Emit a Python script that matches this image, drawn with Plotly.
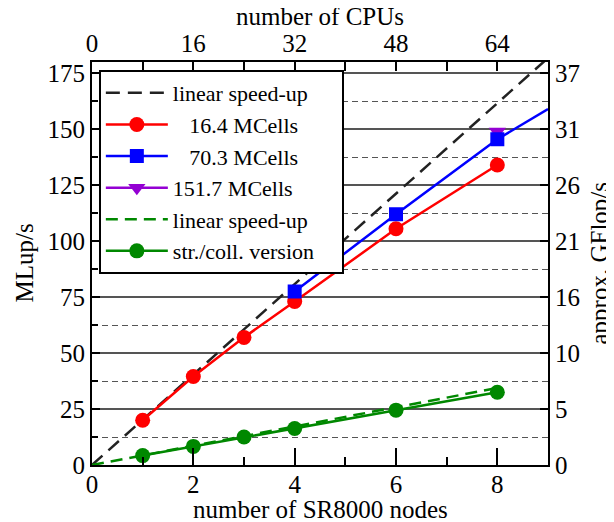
import plotly.graph_objects as go

# ---- data ----
nodes_red = [1, 2, 3, 4, 6, 8]
mlups_red = [20, 39.5, 57, 73, 105.5, 134]

nodes_blue = [4, 6, 8]
mlups_blue = [77.5, 112, 145.5]
nodes_blue_ext = [8, 9]
mlups_blue_ext = [145.5, 159]

nodes_purple = [8]
mlups_purple = [149]

nodes_green = [1, 2, 3, 4, 6, 8]
mlups_green = [4.2, 8.3, 12.5, 16.3, 24.5, 32.5]

lin_x = [0, 9]
lin_black = [0, 181.8]
lin_green_x = [0, 8]
lin_green = [0, 34.4]

bottom_ticks = [0, 2, 4, 6, 8]
top_ticks = [0, 16, 32, 48, 64]
left_ticks = [0, 25, 50, 75, 100, 125, 150, 175]
right_text = ["0", "5", "10", "16", "21", "26", "31", "37"]

FONT = "Liberation Serif"
NB = "\u00a0"
TICK = 25
TITLE = 25

fig = go.Figure()
fig.add_trace(go.Scatter(x=lin_x, y=lin_black, mode="lines", name="linear speed-up",
                         line=dict(color="#222222", width=2.5, dash="14px,8px"), legendrank=1))
fig.add_trace(go.Scatter(x=lin_green_x, y=lin_green, mode="lines", name="linear speed-up",
                         line=dict(color="#008800", width=2.5, dash="12px,7px"), legendrank=5))
fig.add_trace(go.Scatter(x=nodes_green, y=mlups_green, mode="lines+markers",
                         name="str./coll. version" + NB * 4,
                         line=dict(color="#008800", width=2.5),
                         marker=dict(symbol="circle", size=15, color="#008800"), legendrank=6))
fig.add_trace(go.Scatter(x=nodes_red, y=mlups_red, mode="lines+markers", name=NB * 3 + "16.4 MCells",
                         line=dict(color="#ff0000", width=2.5),
                         marker=dict(symbol="circle", size=15, color="#ff0000"), legendrank=2))
fig.add_trace(go.Scatter(x=nodes_purple, y=mlups_purple, mode="lines+markers", name="151.7 MCells",
                         line=dict(color="#9400d3", width=2.5),
                         marker=dict(symbol="triangle-down", size=15, color="#9400d3"), legendrank=4))
fig.add_trace(go.Scatter(x=nodes_blue_ext, y=mlups_blue_ext, mode="lines", showlegend=False,
                         line=dict(color="#0000ff", width=2.5)))
fig.add_trace(go.Scatter(x=nodes_blue, y=mlups_blue, mode="lines+markers", name=NB * 3 + "70.3 MCells",
                         line=dict(color="#0000ff", width=2.5),
                         marker=dict(symbol="square", size=14, color="#0000ff"), legendrank=3))
fig.add_trace(go.Scatter(x=[None], y=[None], xaxis="x2", yaxis="y2", showlegend=False, hoverinfo="skip"))

axis_common = dict(automargin=False, showline=True, linecolor="black", linewidth=2,
                   zeroline=False, tickcolor="black", tickwidth=1.5, ticks="inside",
                   tickfont=dict(family=FONT, size=TICK))

fig.update_layout(
    width=606, height=514,
    margin=dict(l=84, r=66, t=54, b=57),
    paper_bgcolor="white", plot_bgcolor="white",
    font=dict(family=FONT, size=TICK, color="black"),
    showlegend=True,
    legend=dict(x=0.015, y=0.98, xanchor="left", yanchor="top",
                bgcolor="white", bordercolor="black", borderwidth=2,
                font=dict(family=FONT, size=22, color="black"),
                tracegroupgap=0, itemwidth=62),
    xaxis=dict(range=[0, 9], tickvals=bottom_ticks, ticklen=17, showgrid=False,
               ticklabelstandoff=-4,
               minor=dict(dtick=1, ticks="inside", ticklen=8, tickwidth=1.5, tickcolor="black"),
               **axis_common),
    xaxis2=dict(range=[0, 72], overlaying="x", side="top", anchor="y2",
                tickvals=top_ticks, ticklen=9, showgrid=False, ticklabelstandoff=-2,
                minor=dict(dtick=8, ticks="inside", ticklen=9, tickwidth=1.5, tickcolor="black"),
                **axis_common),
    yaxis=dict(range=[0, 180], tickvals=left_ticks, ticklen=8,
               showgrid=True, gridcolor="#555555", gridwidth=1.5,
               minor=dict(dtick=12.5, ticks="inside", ticklen=6, tickcolor="black",
                          showgrid=True, gridcolor="#555555", gridwidth=1.2, griddash="6px,4px"),
               **axis_common),
    yaxis2=dict(range=[0, 180], overlaying="y", side="right", anchor="x2",
                tickvals=left_ticks, ticktext=right_text, ticklen=8, showgrid=False,
                **axis_common),
    annotations=[
        dict(text="number of SR8000 nodes", xref="paper", yref="paper", x=0.5, y=-0.11,
             xanchor="center", yanchor="middle", showarrow=False,
             font=dict(family=FONT, size=TITLE)),
        dict(text="number of CPUs", xref="paper", yref="paper", x=0.5, y=1.112,
             xanchor="center", yanchor="middle", showarrow=False,
             font=dict(family=FONT, size=TITLE)),
        dict(text="MLup/s", xref="paper", yref="paper", x=-0.149, y=0.5, textangle=-90,
             xanchor="center", yanchor="middle", showarrow=False,
             font=dict(family=FONT, size=TITLE)),
        dict(text="approx. GFlop/s", xref="paper", yref="paper", x=1.114, y=0.5025, textangle=-90,
             xanchor="center", yanchor="middle", showarrow=False,
             font=dict(family=FONT, size=TITLE)),
    ],
)

fig.write_html("out.html")
